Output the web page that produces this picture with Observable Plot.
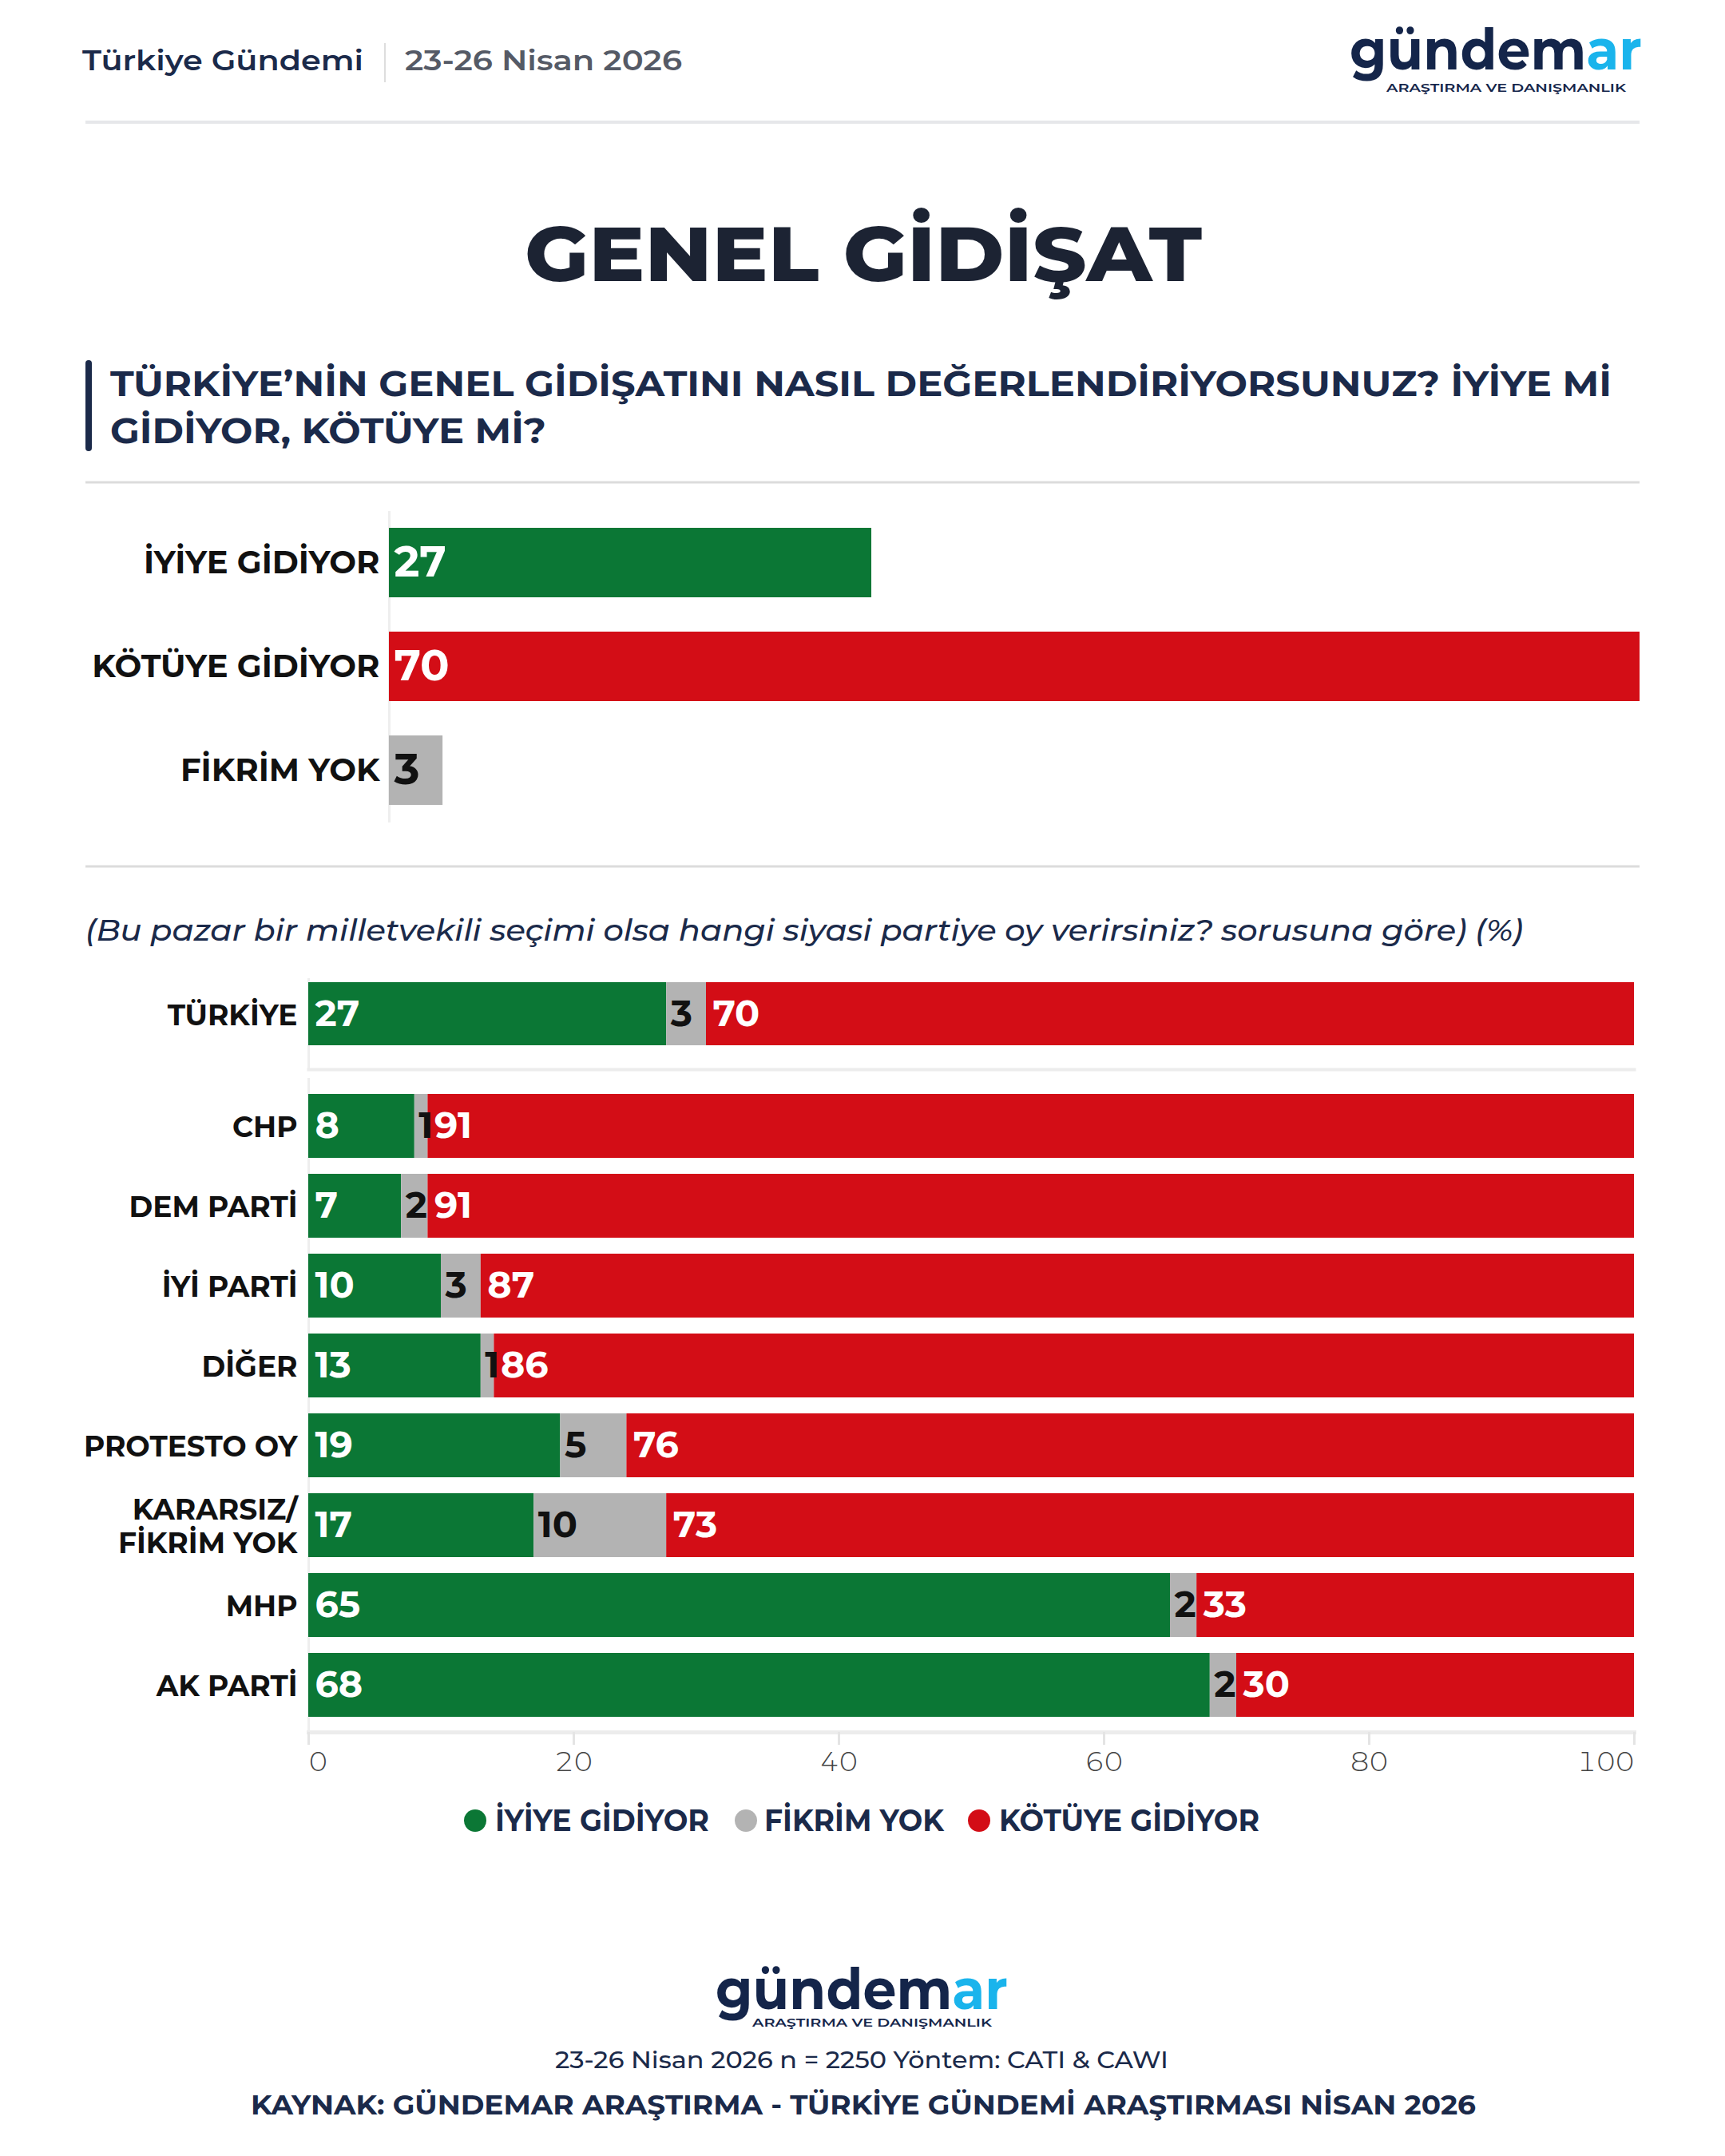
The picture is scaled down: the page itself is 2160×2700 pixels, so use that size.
<!DOCTYPE html>
<html>
<head>
<meta charset="utf-8">
<script src="https://cdn.jsdelivr.net/npm/d3@7"></script>
<script src="https://cdn.jsdelivr.net/npm/@observablehq/plot@0.6"></script>
<style>
  html, body { margin: 0; padding: 0; background: #ffffff; }
  #page { position: relative; width: 2160px; height: 2700px; background: #ffffff; overflow: hidden;
          font-family: Montserrat, Inter, "Noto Sans", sans-serif; }
  #overlay { position: absolute; left: 0; top: 0; }
  .chart { position: absolute; left: 0; }
  .chart svg { overflow: visible; }
</style>
</head>
<body>
<div id="page">
  <svg id="overlay" width="2160" height="2700"></svg>
  <div id="c1" class="chart" style="top:640px"></div>
  <div id="c2" class="chart" style="top:1225px"></div>
  <div id="c3" class="chart" style="top:1350px"></div>
</div>
<script>
// ---------- DATA ----------
const topCategories = ["İYİYE GİDİYOR", "KÖTÜYE GİDİYOR", "FİKRİM YOK"];
const topValues = [27, 70, 3];

const seriesNames = ["İYİYE GİDİYOR", "FİKRİM YOK", "KÖTÜYE GİDİYOR"];
const seriesColors = ["#0b7735", "#b3b3b3", "#d30d16"];

const totalGroup = ["TÜRKİYE"];
const partyGroups = ["CHP", "DEM PARTİ", "İYİ PARTİ", "DİĞER", "PROTESTO OY", "KARARSIZ/\nFİKRİM YOK", "MHP", "AK PARTİ"];
const groups = totalGroup.concat(partyGroups);
const iyiyeValues  = [27, 8, 7, 10, 13, 19, 17, 65, 68];
const fikrimValues = [3, 1, 2, 3, 1, 5, 10, 2, 2];
const kotuyeValues = [70, 91, 91, 87, 86, 76, 73, 33, 30];
const xTicks = [0, 20, 40, 60, 80, 100];

// ---------- TEXTS ----------
const headerLeft = "Türkiye Gündemi";
const headerDate = "23-26 Nisan 2026";
const titleText = "GENEL GİDİŞAT";
const questionLines = ["TÜRKİYE’NİN GENEL GİDİŞATINI NASIL DEĞERLENDİRİYORSUNUZ? İYİYE Mİ", "GİDİYOR, KÖTÜYE Mİ?"];
const subtitleText = "(Bu pazar bir milletvekili seçimi olsa hangi siyasi partiye oy verirsiniz? sorusuna göre) (%)";
const footerInfo = "23-26 Nisan 2026 n = 2250 Yöntem: CATI & CAWI";
const footerSource = "KAYNAK: GÜNDEMAR ARAŞTIRMA - TÜRKİYE GÜNDEMİ ARAŞTIRMASI NİSAN 2026";
const logoMain = "gündem", logoAccent = "ar", logoSub = "ARAŞTIRMA VE DANIŞMANLIK";

// ---------- build tables ----------
const topData = topCategories.map((c, i) => ({category: c, value: topValues[i]}));
const stackData = [];
groups.forEach((g, i) => {
  [iyiyeValues[i], fikrimValues[i], kotuyeValues[i]].forEach((v, j) => {
    stackData.push({group: g, series: seriesNames[j], value: v});
  });
});

const NAVY = "#1b2a4a";
const FONT = "Montserrat, Inter, 'Noto Sans', sans-serif";

// ---------- overlay (header, title, footer, legend) ----------
const ov = d3.select("#overlay").attr("font-family", FONT);
function txt(x, y, s, o = {}) {
  const el = ov.append("text").attr("x", x).attr("y", y).text(s)
    .attr("font-size", o.size || 36).attr("font-weight", o.weight || 400)
    .attr("fill", o.fill || NAVY).attr("text-anchor", o.anchor || "start");
  if (o.italic) el.attr("font-style", "italic");
  if (o.len) el.attr("textLength", o.len).attr("lengthAdjust", "spacingAndGlyphs");
  return el;
}
function line(x1, y1, x2, y2, stroke, w) {
  ov.append("line").attr("x1", x1).attr("y1", y1).attr("x2", x2).attr("y2", y2)
    .attr("stroke", stroke).attr("stroke-width", w);
}
function logo(x, y, subDy) {
  const t = ov.append("text").attr("x", x).attr("y", y).attr("font-size", 72).attr("font-weight", 700)
    .attr("textLength", 366).attr("lengthAdjust", "spacingAndGlyphs");
  t.append("tspan").attr("fill", "#14254a").text(logoMain);
  t.append("tspan").attr("fill", "#1ab4ec").text(logoAccent);
  txt(x + 46, y + subDy, logoSub, {size: 15, weight: 600, fill: "#14254a", len: 300});
}

// header
txt(103, 88, headerLeft, {size: 35, weight: 600, len: 352});
line(482, 54, 482, 103, "#dddddd", 2);
txt(507, 88, headerDate, {size: 35, weight: 600, fill: "#555a66", len: 347});
logo(1690, 87, 28);
line(107, 153, 2053, 153, "#e6e7ea", 4);

// title
txt(1081, 352, titleText, {size: 96, weight: 800, fill: "#1c2333", anchor: "middle", len: 848});

// question
ov.append("rect").attr("x", 107).attr("y", 451).attr("width", 8).attr("height", 114).attr("rx", 4).attr("fill", NAVY);
txt(138, 496, questionLines[0], {size: 43, weight: 700, len: 1880});
txt(138, 555, questionLines[1], {size: 43, weight: 700, len: 546});
line(107, 604, 2053, 604, "#dcdcdc", 3);

// separator and subtitle
line(107, 1085, 2053, 1085, "#dcdcdc", 3);
txt(107, 1178, subtitleText, {size: 38, weight: 500, italic: true, len: 1800});

// legend
const legendDotX = [595, 934, 1226];
const legendTextX = [620, 957, 1251];
const legendTextW = [268, 225, 326];
seriesNames.forEach((s, i) => {
  ov.append("circle").attr("cx", legendDotX[i]).attr("cy", 2280).attr("r", 14).attr("fill", seriesColors[i]);
  txt(legendTextX[i], 2293, s, {size: 38, weight: 700, len: legendTextW[i]});
});

// footer
logo(896, 2516, 22);
txt(1079, 2590, footerInfo, {size: 30, weight: 500, anchor: "middle", len: 768});
txt(1081, 2648, footerSource, {size: 35, weight: 700, anchor: "middle", len: 1534});

// ---------- CHART 1 : simple bars ----------
const color = {domain: seriesNames, range: seriesColors};
const chart1 = Plot.plot({
  width: 2160, height: 390,
  marginLeft: 487, marginRight: 107, marginTop: 0, marginBottom: 0,
  style: {background: "transparent", fontFamily: FONT, overflow: "visible"},
  x: {domain: [0, d3.max(topValues)], axis: null},
  y: {domain: topCategories, paddingInner: 0.33, paddingOuter: 0.16, label: null},
  color,
  marks: [
    Plot.ruleX([0], {stroke: "#eeeeee", strokeWidth: 3}),
    Plot.barX(topData, {x: "value", y: "category", fill: "category"}),
    Plot.text(topData, {filter: d => d.category !== "FİKRİM YOK", x: d => 0, y: "category", text: d => String(d.value),
      dx: 6, textAnchor: "start", fill: "white", fontSize: 54, fontWeight: 700}),
    Plot.text(topData, {filter: d => d.category === "FİKRİM YOK", x: d => 0, y: "category", text: d => String(d.value),
      dx: 6, textAnchor: "start", fill: "#111111", fontSize: 54, fontWeight: 700}),
    Plot.axisY({tickSize: 0, tickPadding: 12, fontSize: 40, fontWeight: 700, fill: "#111111", label: null})
  ]
});
document.getElementById("c1").appendChild(chart1);

// ---------- stacked charts ----------
function stackedMarks(data) {
  return [
    Plot.ruleX([0], {stroke: "#eeeeee", strokeWidth: 3}),
    Plot.barX(data, {x: "value", y: "group", fill: "series", order: seriesNames}),
    Plot.text(data, Plot.filter(d => d.series !== "FİKRİM YOK",
      Plot.stackX1({x: "value", y: "group", z: "series", order: seriesNames, text: d => String(d.value),
        dx: 8, textAnchor: "start", fill: "white", fontSize: 46, fontWeight: 700}))),
    Plot.text(data, Plot.filter(d => d.series === "FİKRİM YOK",
      Plot.stackX1({x: "value", y: "group", z: "series", order: seriesNames, text: d => String(d.value),
        dx: 5, textAnchor: "start", fill: "#111111", fontSize: 46, fontWeight: 700}))),
    Plot.axisY({tickSize: 0, tickPadding: 14, fontSize: 36, fontWeight: 700, fill: "#111111", label: null, lineHeight: 1.18})
  ];
}

const chart2 = Plot.plot({
  width: 2160, height: 114,
  marginLeft: 386, marginRight: 114, marginTop: 0, marginBottom: 0,
  style: {background: "transparent", fontFamily: FONT, overflow: "visible"},
  x: {domain: [0, 100], axis: null},
  y: {domain: totalGroup, paddingInner: 0.2, paddingOuter: 0.17, align: 0.15, label: null},
  color,
  marks: [
    ...stackedMarks(stackData.filter(d => totalGroup.includes(d.group))),
    Plot.frame({anchor: "bottom", stroke: "#ececec", strokeWidth: 4})
  ]
});
document.getElementById("c2").appendChild(chart2);

const chart3 = Plot.plot({
  width: 2160, height: 879,
  marginLeft: 386, marginRight: 114, marginTop: 0, marginBottom: 60,
  style: {background: "transparent", fontFamily: FONT, overflow: "visible"},
  x: {domain: [0, 100], axis: null},
  y: {domain: partyGroups, paddingInner: 0.2, paddingOuter: 0.195, label: null},
  color,
  marks: [
    ...stackedMarks(stackData.filter(d => partyGroups.includes(d.group))),
    Plot.frame({anchor: "bottom", stroke: "#ececec", strokeWidth: 5}),
    Plot.axisX({ticks: xTicks.slice(1, -1), tickSize: 16, tickPadding: 8, stroke: "#e4e4e4", strokeWidth: 3,
      fill: "#444444", fontSize: 34, fontWeight: 300, label: null}),
    Plot.axisX({ticks: xTicks.slice(0, 1), tickSize: 16, tickPadding: 8, stroke: "#e4e4e4", strokeWidth: 3,
      fill: "#444444", fontSize: 34, fontWeight: 300, label: null, textAnchor: "start"}),
    Plot.axisX({ticks: xTicks.slice(-1), tickSize: 16, tickPadding: 8, stroke: "#e4e4e4", strokeWidth: 3,
      fill: "#444444", fontSize: 34, fontWeight: 300, label: null, textAnchor: "end"})
  ]
});
document.getElementById("c3").appendChild(chart3);
</script>
</body>
</html>
